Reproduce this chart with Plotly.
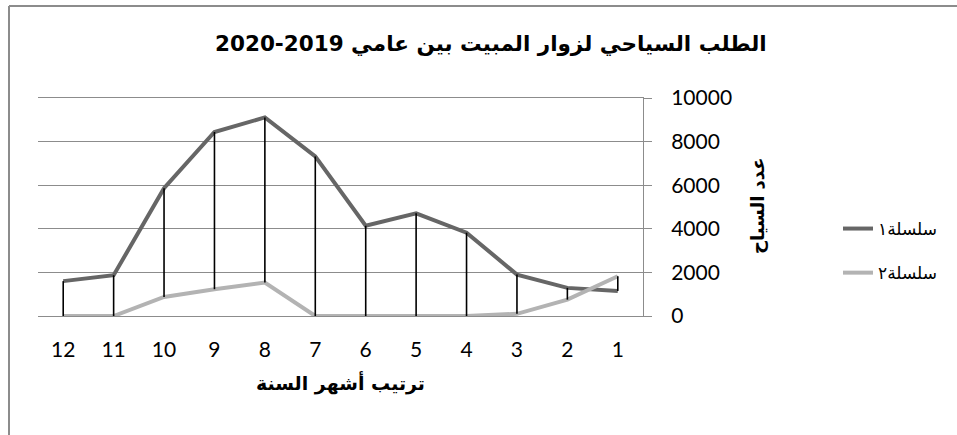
import plotly.graph_objects as go

# ---- data ----
months = [1, 2, 3, 4, 5, 6, 7, 8, 9, 10, 11, 12]
tick_labels = ["1", "2", "3", "4", "5", "6", "7", "8", "9", "10", "11", "12"]
series1 = [1150, 1290, 1900, 3820, 4710, 4140, 7320, 9110, 8440, 5860, 1870, 1600]
series2 = [1825, 750, 100, 0, 0, 0, 0, 1535, 1230, 875, 0, 0]
series_names = ["سلسلة١", "سلسلة٢"]
title_text = "الطلب السياحي لزوار المبيت بين عامي 2019-2020"
x_title = "ترتيب أشهر السنة"
y_title = "عدد السياح"
y_ticks = [0, 2000, 4000, 6000, 8000, 10000]
y_tick_labels = ["0", "2000", "4000", "6000", "8000", "10000"]

# ---- styling ----
W, H = 957, 435
L, R, T, B = 38, 314, 98, 119
PW, PH = W - L - R, H - T - B
C1, C2 = "#666666", "#b3b3b3"
GRID = "#8c8c8c"
TICK_FONT = dict(family="Lato, 'Open Sans', sans-serif", size=21, color="#000000")
AR_BOLD = "'DejaVu Sans', Arial, sans-serif"


def px_x(px):
    return (px - L) / PW


def px_y(py):
    return (H - B - py) / PH


# high-low lines between the two series at each month
hl_x, hl_y = [], []
for m, a, b in zip(months, series1, series2):
    hl_x += [m, m, None]
    hl_y += [max(a, b), min(a, b), None]

fig = go.Figure()
fig.add_trace(go.Scatter(x=months, y=series1, mode="lines", name=series_names[0],
                         line=dict(color=C1, width=4), legendgroup="a"))
fig.add_trace(go.Scatter(x=months, y=series2, mode="lines", name=series_names[1],
                         line=dict(color=C2, width=4), legendgroup="b"))
fig.add_trace(go.Scatter(x=hl_x, y=hl_y, mode="lines", showlegend=False,
                         line=dict(color="#000000", width=1.6), hoverinfo="skip"))

fig.update_layout(
    width=W, height=H,
    margin=dict(l=L, r=R, t=T, b=B, pad=0, autoexpand=False),
    paper_bgcolor="white", plot_bgcolor="white",
    showlegend=True,
    legend=dict(x=px_x(838), y=px_y(211), xanchor="left", yanchor="top",
                font=dict(family="'DejaVu Sans', Arial, sans-serif", size=17, color="#000"),
                tracegroupgap=19, bgcolor="rgba(0,0,0,0)", itemwidth=30),
    xaxis=dict(range=[12.5, 0.5], tickmode="array", tickvals=months, ticktext=tick_labels,
               showgrid=False, zeroline=False, showline=True, mirror=True,
               linecolor=GRID, linewidth=1, ticks="",
               tickfont=TICK_FONT, ticklabelstandoff=15),
    yaxis=dict(range=[0, 10000], side="right", tickmode="array", tickvals=y_ticks,
               ticktext=y_tick_labels,
               showgrid=True, gridcolor=GRID, gridwidth=1, zeroline=False,
               showline=True, linecolor=GRID, linewidth=1,
               ticks="outside", ticklen=8, tickcolor=GRID, tickwidth=1,
               tickfont=TICK_FONT, ticklabelstandoff=15),
    annotations=[
        dict(text="<b>" + title_text + "</b>", x=px_x(491), y=px_y(44), xref="paper", yref="paper",
             showarrow=False, xanchor="center", yanchor="middle",
             font=dict(family=AR_BOLD, size=21.5, color="#000")),
        dict(text="<b>" + x_title + "</b>", x=px_x(340), y=px_y(383), xref="paper", yref="paper",
             showarrow=False, xanchor="center", yanchor="middle",
             font=dict(family=AR_BOLD, size=19, color="#000")),
        dict(text="<b>" + y_title + "</b>", x=px_x(757), y=px_y(206), xref="paper", yref="paper",
             showarrow=False, xanchor="center", yanchor="middle", textangle=-90,
             font=dict(family=AR_BOLD, size=18, color="#000")),
    ],
    shapes=[
        dict(type="line", xref="paper", yref="paper", x0=px_x(9), x1=px_x(W + 5),
             y0=px_y(6), y1=px_y(6), line=dict(color=GRID, width=2)),
        dict(type="line", xref="paper", yref="paper", x0=px_x(9), x1=px_x(9),
             y0=px_y(6), y1=px_y(H + 5), line=dict(color=GRID, width=2)),
    ],
)

fig.write_html("out.html", config={"displayModeBar": False},
               post_script="document.body.style.margin='0px';")
